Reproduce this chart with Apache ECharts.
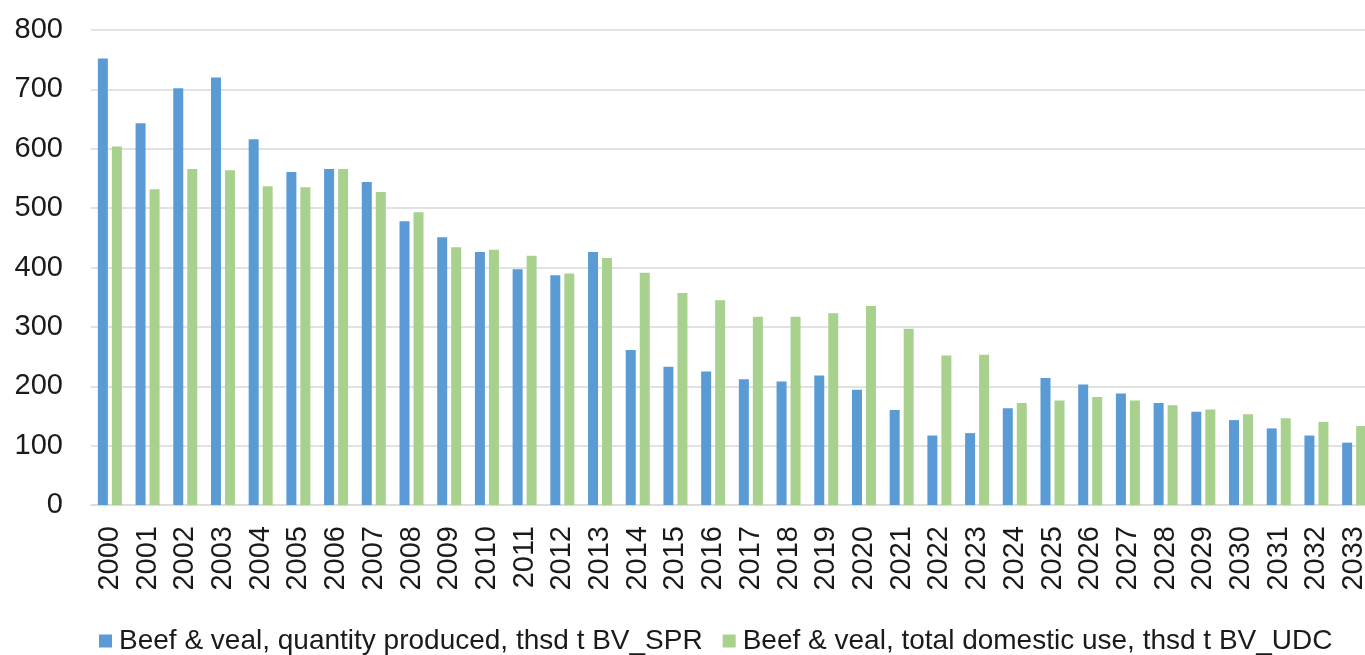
<!DOCTYPE html>
<html>
<head>
<meta charset="utf-8">
<script src="https://cdn.jsdelivr.net/npm/echarts@6/dist/echarts.min.js"></script>
<style>
html,body{margin:0;padding:0;background:#fff;overflow:hidden;}
#chart{width:1365px;height:655px;}
</style>
</head>
<body>
<div id="chart"></div>
<script>
const years = ['2000','2001','2002','2003','2004','2005','2006','2007','2008','2009','2010','2011','2012','2013','2014','2015','2016','2017','2018','2019','2020','2021','2022','2023','2024','2025','2026','2027','2028','2029','2030','2031','2032','2033'];
const produced = [752,643,702,720,616,561,566,544,478,451,426,397,387,426,261,233,225,212,208,218,194,160,117,121,163,214,203,188,172,157,143,129,117,105];
const domesticUse = [604,532,566,564,537,535,566,527,493,434,430,420,390,416,391,357,345,317,317,323,335,297,252,253,172,176,182,176,168,161,153,146,140,133];
const yTicks = [0,100,200,300,400,500,600,700,800];
const seriesNames = ['Beef & veal, quantity produced, thsd t BV_SPR','Beef & veal, total domestic use, thsd t BV_UDC'];

const chart = echarts.init(document.getElementById('chart'));
const font = 'Liberation Sans, Arial, sans-serif';
chart.setOption({
  animation:false,
  textStyle:{fontFamily:font},
  grid:{left:91,width:1282,top:30,bottom:150,outerBoundsMode:'none',containLabel:false},
  legend:{
    bottom:0,left:99,padding:0,
    itemWidth:13,itemHeight:13,itemGap:20,
    icon:'rect',
    textStyle:{fontSize:28,color:'#1a1a1a',fontFamily:font,padding:[0,0,0,2]},
    data:seriesNames
  },
  xAxis:{
    type:'category',data:years,
    axisLine:{show:true,lineStyle:{color:'#d9d9d9',width:1.5}},
    axisTick:{show:false},
    axisLabel:{rotate:90,fontSize:29,color:'#1a1a1a',margin:21,fontFamily:font,interval:0}
  },
  yAxis:{
    type:'value',min:yTicks[0],max:yTicks[yTicks.length-1],interval:100,
    axisLine:{show:false},axisTick:{show:false},
    splitLine:{lineStyle:{color:'#d9d9d9',width:1.5}},
    axisLabel:{fontSize:29,color:'#1a1a1a',margin:28,fontFamily:font}
  },
  series:[
    {name:seriesNames[0],type:'bar',data:produced,barWidth:10,barGap:'40%',itemStyle:{color:'#5b9bd5'}},
    {name:seriesNames[1],type:'bar',data:domesticUse,barWidth:10,barGap:'40%',itemStyle:{color:'#a9d18e'}}
  ]
});
</script>
</body>
</html>
